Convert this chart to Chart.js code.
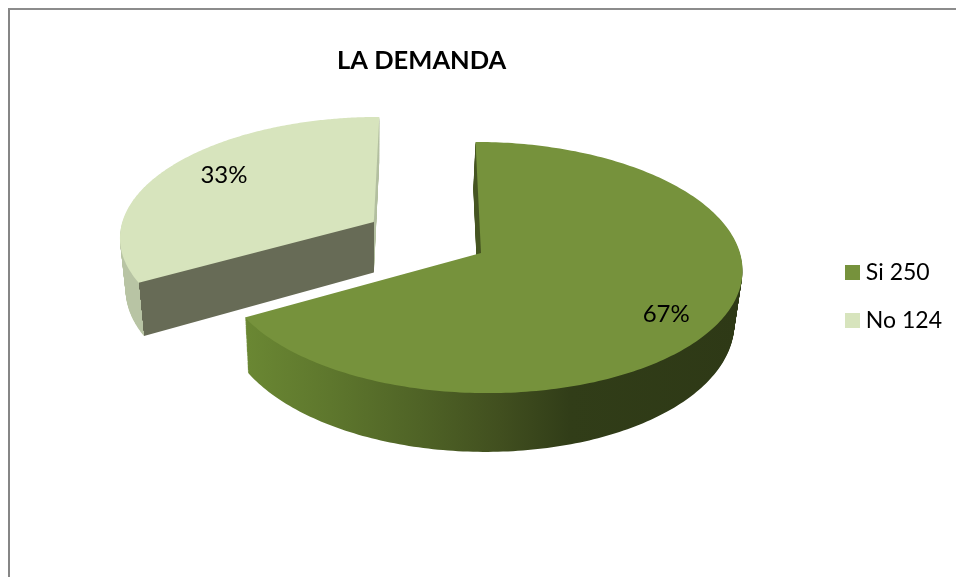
<!DOCTYPE html>
<html>
<head>
<meta charset="utf-8">
<title>La demanda</title>
<script src="https://cdn.jsdelivr.net/npm/chart.js@4"></script>
<style>
  html, body { margin: 0; padding: 0; background: #fff; overflow: hidden; }
  #frame { position: absolute; left: 8px; top: 8px; width: 960px; height: 580px; border-left: 2px solid #868686; border-top: 2px solid #8c8c8c; }
  #wrap { position: absolute; left: 0; top: 0; width: 956px; height: 577px; }
</style>
</head>
<body>
<div id="frame"></div>
<div id="wrap"><canvas id="demandaChart" width="956" height="577"></canvas></div>
<script>
  // Data
  const categories = ['Si', 'No'];
  const values = [250, 124];
  const chartTitle = 'LA DEMANDA';

  // Colours
  const sliceColors = ['#76923C', '#D7E4BD'];
  const FONT = 'Lato, "Open Sans", sans-serif';

  // Perspective of the pie's plane (fitted to the reference)
  const VX = 428, VY = -924;   // vanishing point
  const CX = 53, CY = 1177;    // pie centre relative to vanishing point
  const AU = 259, CV = -12, K = 0.1155;
  const DEPTH = 51.5;          // wall height
  const SHRINK = 0.022;        // walls lean in towards x = 375

  function project(u, v, t) {
    const w = 1 - K * v;
    const x = VX + (CX + AU * u) / w;
    const y = VY + (CY + CV * v) / w;
    return { x: x + t * SHRINK * (375 - x), y: y + t * DEPTH / w };
  }

  // The exploded slice is moved along its own middle
  const explode = [[0, 0], [-0.42, -0.2575]];

  // ctx stand-in: the arc element draws its normal path, every point goes through project()
  function projectedCtx(ctx, arc, shift, t) {
    const R = arc.outerRadius;
    const map = (px, py) => project((px - arc.x) / R + shift[0], (py - arc.y) / R + shift[1], t);
    const overrides = {
      moveTo(x, y) { const p = map(x, y); ctx.moveTo(p.x, p.y); },
      lineTo(x, y) { const p = map(x, y); ctx.lineTo(p.x, p.y); },
      arc(x, y, r, a0, a1, ccw) {
        if (!(r > 0)) { const c = map(x, y); ctx.lineTo(c.x, c.y); return; }
        const steps = 120;
        for (let i = 0; i <= steps; i++) {
          const a = a0 + (a1 - a0) * i / steps;
          const p = map(x + Math.cos(a) * r, y + Math.sin(a) * r);
          ctx.lineTo(p.x, p.y);
        }
      }
    };
    return new Proxy(ctx, {
      get(target, key) {
        if (overrides[key]) return overrides[key];
        const v = target[key];
        return typeof v === 'function' ? v.bind(target) : v;
      },
      set(target, key, v) { target[key] = v; return true; }
    });
  }

  function wallFill(ctx, index, arc, t) {
    const g = ctx.createLinearGradient(100, 0, 760, 0);
    const pos = x => (x - 100) / 660;
    if (index === 0) {
      g.addColorStop(pos(247), '#6a8733');
      g.addColorStop(pos(330), '#5e772d');
      g.addColorStop(pos(420), '#4f6326');
      g.addColorStop(pos(500), '#414f1f');
      g.addColorStop(pos(570), '#313d18');
      g.addColorStop(pos(740), '#2e3916');
      return g;
    }
    // "No" slice: light outer wall, grey cut face, light sliver on the right
    const corner = project(explode[1][0] + Math.cos(arc.startAngle), explode[1][1] + Math.sin(arc.startAngle), t);
    const tip = project(explode[1][0], explode[1][1], t);
    g.addColorStop(0, '#b8c4a4');
    g.addColorStop(pos(corner.x), '#b8c4a4');
    g.addColorStop(pos(corner.x), '#676b56');
    g.addColorStop(pos(tip.x), '#676b56');
    g.addColorStop(pos(tip.x), '#b3bfa0');
    g.addColorStop(1, '#b3bfa0');
    return g;
  }

  const pie3d = {
    id: 'pie3d',
    beforeDatasetDraw(chart, args) {
      const ctx = chart.ctx;
      const arcs = args.meta.data;
      // back slice first
      [1, 0].forEach(i => {
        const arc = arcs[i];
        const top = arc.options;
        for (let d = Math.round(DEPTH); d > 0; d--) {
          const t = d / DEPTH;
          arc.options = { ...top, backgroundColor: wallFill(ctx, i, arc, t) };
          arc.draw(projectedCtx(ctx, arc, explode[i], t));
        }
        arc.options = top;
        arc.draw(projectedCtx(ctx, arc, explode[i], 0));
      });
      return false;
    },
    afterDatasetsDraw(chart) {
      const ctx = chart.ctx;
      const arcs = chart.getDatasetMeta(0).data;
      const total = values.reduce((a, b) => a + b, 0);
      const nudge = [[0, 10], [10, -3]];
      ctx.save();
      ctx.fillStyle = '#000';
      ctx.font = '24px ' + FONT;
      ctx.textAlign = 'center';
      ctx.textBaseline = 'middle';
      arcs.forEach((arc, i) => {
        const mid = (arc.startAngle + arc.endAngle) / 2;
        const p = project(explode[i][0] + Math.cos(mid) * 0.78, explode[i][1] + Math.sin(mid) * 0.78, 0);
        ctx.fillText(Math.round(values[i] / total * 100) + '%', p.x + nudge[i][0], p.y + nudge[i][1]);
      });
      ctx.restore();
    }
  };

  // Legend swatch, wider than the box the legend reserves so the text sits close
  function swatch(color) {
    const c = document.createElement('canvas');
    c.width = 15;
    c.height = 15;
    const g = c.getContext('2d');
    g.fillStyle = color;
    g.fillRect(0, 0, 15, 15);
    return c;
  }

  new Chart(document.getElementById('demandaChart').getContext('2d'), {
    type: 'pie',
    plugins: [pie3d],
    data: {
      labels: categories,
      datasets: [{
        data: values,
        backgroundColor: sliceColors,
        borderWidth: 0
      }]
    },
    options: {
      responsive: false,
      animation: false,
      layout: { padding: { top: 16, right: 4, left: 18 } },
      plugins: {
        tooltip: { enabled: false },
        title: {
          display: true,
          text: chartTitle,
          fullSize: false,
          color: '#000',
          font: { family: FONT, size: 25.5, weight: 'bold' },
          padding: { top: 29, bottom: 10 }
        },
        legend: {
          position: 'right',
          labels: {
            usePointStyle: true,
            pointStyleWidth: 4,
            padding: 25,
            color: '#000',
            font: { family: FONT, size: 23 },
            generateLabels: () => categories.map((name, i) => ({
              text: name + ' ' + values[i],
              fillStyle: sliceColors[i],
              strokeStyle: sliceColors[i],
              lineWidth: 0,
              pointStyle: swatch(sliceColors[i]),
              index: i
            }))
          }
        }
      }
    }
  });
</script>
</body>
</html>
